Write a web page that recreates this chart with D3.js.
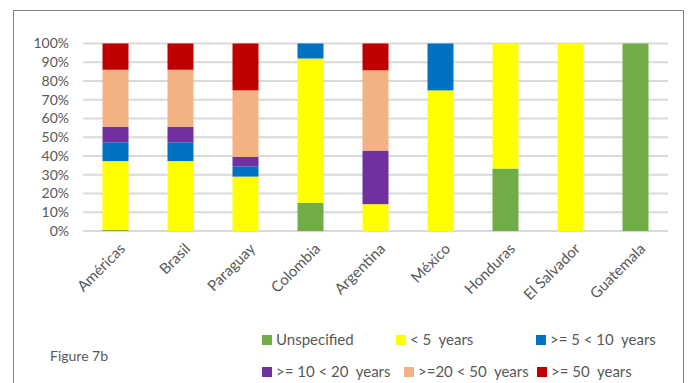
<!DOCTYPE html>
<html>
<head>
<meta charset="utf-8">
<script src="https://cdn.jsdelivr.net/npm/d3@7"></script>
<style>
  html, body { margin: 0; padding: 0; background: #fff; }
  svg { display: block; font-family: Lato, "Open Sans", sans-serif; }
  .keep-space { white-space: pre; }
</style>
</head>
<body>
<svg id="chart" width="689" height="383"></svg>
<script>
// Countries along the x axis
const categories = ["Américas", "Brasil", "Paraguay", "Colombia", "Argentina", "México", "Honduras", "El Salvador", "Guatemala"];

// Age-group series (percent of each country's total)
const seriesNames = ["Unspecified", "< 5  years", ">= 5 < 10  years", ">= 10 < 20  years", ">=20 < 50  years", ">= 50  years"];
const unspecified = [0.5, 0, 0, 15, 0, 0, 33.3, 0, 100];
const under5      = [36.8, 37.3, 29, 77, 14.3, 75, 66.7, 100, 0];
const from5to10   = [10, 10, 5.5, 8, 0, 25, 0, 0, 0];
const from10to20  = [8.2, 8.2, 5, 0, 28.6, 0, 0, 0, 0];
const from20to50  = [30.5, 30.5, 35.5, 0, 42.8, 0, 0, 0, 0];
const over50      = [14, 14, 25, 0, 14.3, 0, 0, 0, 0];

const yTicks = [0, 10, 20, 30, 40, 50, 60, 70, 80, 90, 100];
const colors = ["#70ad47", "#ffff00", "#0070c0", "#7030a0", "#f4b183", "#c00000"];

const seriesValues = [unspecified, under5, from5to10, from10to20, from20to50, over50];
const rows = categories.map((c, i) => {
  const r = { country: c };
  seriesNames.forEach((s, k) => { r[s] = seriesValues[k][i]; });
  return r;
});

const svg = d3.select("#chart");

// Outer frame (open at the bottom)
svg.append("path")
  .attr("d", "M13.5,383 L13.5,10.5 L683.5,10.5 L683.5,383")
  .attr("fill", "none")
  .attr("stroke", "#7f7f7f")
  .attr("stroke-width", 1);

const x = d3.scaleBand().domain(categories).range([83, 668]).paddingInner(0.6).paddingOuter(0.3);
const y = d3.scaleLinear().domain([0, 100]).range([231, 43.5]);

// Gridlines
svg.append("g").selectAll("line").data(yTicks).join("line")
  .attr("x1", 83).attr("x2", 668)
  .attr("y1", d => y(d)).attr("y2", d => y(d))
  .attr("stroke", "#d9d9d9").attr("stroke-width", 2);

// Y axis labels
const yAxis = d3.axisLeft(y).tickValues(yTicks).tickFormat(d => d + "%").tickSize(0).tickPadding(0);
svg.append("g").attr("transform", "translate(69,0)").call(yAxis)
  .call(g => g.select(".domain").remove())
  .call(g => g.selectAll("text").attr("fill", "#595959").attr("font-size", 14).attr("font-family", "Lato, sans-serif"));

// Stacked bars
const stacked = d3.stack().keys(seriesNames)(rows);
svg.append("g").selectAll("g").data(stacked).join("g")
  .attr("fill", (d, i) => colors[i])
  .selectAll("rect").data(d => d).join("rect")
  .attr("x", d => x(d.data.country))
  .attr("width", x.bandwidth())
  .attr("y", d => y(d[1]))
  .attr("height", d => Math.max(0, y(d[0]) - y(d[1])));

// X axis labels, rotated
const xAxis = d3.axisBottom(x).tickSize(0).tickPadding(0);
svg.append("g").attr("transform", "translate(0,246)").call(xAxis)
  .call(g => g.select(".domain").remove())
  .call(g => g.selectAll("text")
    .attr("fill", "#595959").attr("font-size", 15).attr("font-family", "Lato, sans-serif")
    .attr("text-anchor", "end").attr("dy", "0.35em")
    .attr("transform", "translate(7,0) rotate(-45)"));

// Legend
const legendPos = [[262, 340], [396, 340], [536, 340], [262, 372], [404, 372], [537, 372]];
const legend = svg.append("g").selectAll("g").data(seriesNames).join("g")
  .attr("transform", (d, i) => `translate(${legendPos[i][0]},${legendPos[i][1]})`);
legend.append("rect").attr("x", 0).attr("y", -5).attr("width", 10).attr("height", 10)
  .attr("fill", (d, i) => colors[i]);
legend.append("text").attr("class", "keep-space").attr("x", 14).attr("dy", "0.35em")
  .attr("fill", "#595959").attr("font-size", 15)
  .text(d => d);

// Figure caption
svg.append("text").attr("x", 50).attr("y", 356).attr("dy", "0.35em")
  .attr("fill", "#595959").attr("font-size", 14)
  .text("Figure 7b");
</script>
</body>
</html>
